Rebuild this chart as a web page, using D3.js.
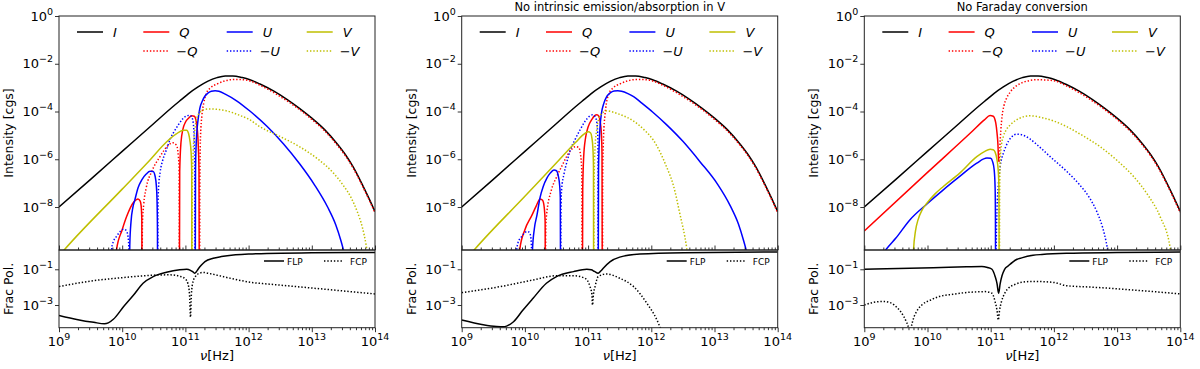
<!DOCTYPE html>
<html>
<head>
<meta charset="utf-8">
<script src="https://cdn.jsdelivr.net/npm/d3@7"></script>
<style>
body { margin: 0; background: #fff; }
text { font-family: "DejaVu Sans", sans-serif; fill: #000; }
</style>
</head>
<body>
<svg id="fig" width="1200" height="369"></svg>
<script>
// all values are [log10(nu), log10(value)] ; null splits a curve into pieces
var titles = ["", "No intrinsic emission/absorption in V", "No Faraday conversion"];
var topTickExp = [0, -2, -4, -6, -8];
var botTickExp = [-1, -3];
var xTickExp = [9, 10, 11, 12, 13, 14];

var stokesI = [[9.00,-8.00],[9.50,-6.84],[10.00,-5.67],[10.50,-4.50],[10.80,-3.80],[10.95,-3.47],[11.05,-3.25],[11.20,-2.97],[11.35,-2.74],[11.50,-2.58],[11.63,-2.51],[11.75,-2.51],[11.90,-2.58],[12.02,-2.67],[12.18,-2.85],[12.40,-3.15],[12.60,-3.48],[12.81,-3.88],[13.00,-4.28],[13.21,-4.78],[13.40,-5.35],[13.53,-5.80],[13.65,-6.30],[13.76,-6.85],[13.88,-7.50],[14.00,-8.19]];

// panel 1
var p1Q = [[9.88,-12],[9.895,-10.3],[9.91,-9.79],[10.0,-8.95],[10.07,-8.40],[10.18,-7.80],[10.25,-7.66],[10.285,-7.75],[10.30,-7.95],[10.31,-8.5],[10.315,-12], null,
  [10.905,-12],[10.91,-6.5],[10.93,-5.3],[10.96,-4.75],[11.0,-4.45],[11.05,-4.28],[11.10,-4.18],[11.14,-4.20],[11.17,-4.4],[11.19,-4.8],[11.205,-5.5],[11.215,-6.5],[11.22,-12]];
var p1mQ = [[10.315,-12],[10.32,-8.7],[10.34,-7.9],[10.38,-7.2],[10.47,-6.5],[10.60,-5.88],[10.72,-5.44],[10.80,-5.31],[10.86,-5.42],[10.89,-5.9],[10.90,-6.5],[10.905,-12], null,
  [11.225,-12],[11.23,-6.5],[11.24,-5.0],[11.26,-4.2],[11.29,-3.65],[11.33,-3.25],[11.40,-3.0],[11.50,-2.85],[11.62,-2.72],[11.76,-2.66],[11.86,-2.66],[12.02,-2.72],[12.18,-2.90],[12.40,-3.21],[12.60,-3.54],[12.81,-3.93],[13.00,-4.33],[13.21,-4.83],[13.40,-5.40],[13.53,-5.85],[13.65,-6.35],[13.76,-6.90],[13.88,-7.55],[14.00,-8.24]];
var p1U = [[10.115,-12],[10.12,-9.6],[10.14,-8.6],[10.17,-8.0],[10.20,-7.70],[10.25,-7.2],[10.31,-6.86],[10.38,-6.62],[10.44,-6.50],[10.49,-6.51],[10.52,-6.7],[10.54,-7.1],[10.55,-7.6],[10.558,-9],[10.56,-12], null,
  [11.155,-12],[11.16,-6.5],[11.17,-5.4],[11.18,-4.9],[11.20,-4.35],[11.23,-3.85],[11.27,-3.55],[11.31,-3.35],[11.36,-3.22],[11.41,-3.15],[11.47,-3.13],[11.53,-3.15],[11.63,-3.27],[11.81,-3.55],[12.02,-3.98],[12.29,-4.62],[12.55,-5.35],[12.81,-6.2],[13.05,-7.1],[13.25,-8.0],[13.38,-8.75],[13.46,-9.4],[13.52,-10.0],[13.6,-11]];
var p1mU = [[9.825,-12],[9.835,-9.7],[9.86,-9.45],[9.91,-9.23],[9.96,-9.05],[10.02,-8.93],[10.06,-8.97],[10.09,-9.2],[10.105,-9.7],[10.11,-12], null,
  [10.562,-12],[10.565,-8.2],[10.575,-7.2],[10.60,-6.55],[10.64,-6.05],[10.70,-5.6],[10.76,-5.15],[10.82,-4.85],[10.89,-4.55],[10.96,-4.30],[11.02,-4.18],[11.07,-4.16],[11.10,-4.23],[11.125,-4.5],[11.14,-5.2],[11.148,-6.5],[11.15,-12]];
var p1V = [[9.0,-10.05],[9.095,-9.76],[10.0,-7.25],[10.44,-6.03],[10.70,-5.28],[10.85,-4.95],[10.97,-4.78],[11.02,-4.78],[11.05,-4.92],[11.07,-5.2],[11.09,-5.7],[11.10,-6.5],[11.103,-12]];
var p1mV = [[11.105,-12],[11.11,-7.0],[11.125,-5.6],[11.15,-4.75],[11.18,-4.30],[11.23,-4.03],[11.30,-3.92],[11.39,-3.89],[11.50,-3.91],[11.63,-3.96],[11.85,-4.15],[12.02,-4.35],[12.18,-4.64],[12.50,-5.05],[12.81,-5.48],[13.10,-6.0],[13.34,-6.57],[13.50,-7.1],[13.62,-7.6],[13.72,-8.2],[13.80,-8.85],[13.86,-9.6],[13.90,-10.3],[13.95,-11]];
var p1FLP = [[9.00,-3.58],[9.30,-3.82],[9.55,-3.97],[9.72,-4.05],[9.78,-4.00],[9.86,-3.80],[10.02,-3.10],[10.18,-2.44],[10.33,-1.78],[10.49,-1.41],[10.70,-1.17],[10.91,-1.03],[11.02,-1.0],[11.08,-1.06],[11.12,-1.15],[11.15,-1.22],[11.17,-1.15],[11.20,-1.00],[11.25,-0.78],[11.31,-0.57],[11.44,-0.38],[11.57,-0.29],[11.76,-0.20],[12.0,-0.15],[12.29,-0.11],[13.0,-0.08],[14.00,-0.06]];
var p1FCP = [[9.00,-1.97],[9.46,-1.68],[10.0,-1.47],[10.5,-1.33],[10.75,-1.31],[10.92,-1.40],[11.0,-1.55],[11.04,-1.80],[11.065,-2.4],[11.08,-3.68],[11.095,-2.4],[11.12,-1.70],[11.16,-1.40],[11.22,-1.22],[11.28,-1.18],[11.40,-1.25],[11.50,-1.33],[11.77,-1.55],[12.10,-1.76],[12.29,-1.82],[13.34,-2.16],[14.00,-2.38]];

// panel 2
var p2Q = [[9.895,-12],[9.905,-10.3],[9.92,-9.76],[10.0,-8.95],[10.11,-8.35],[10.18,-7.95],[10.24,-7.66],[10.28,-7.72],[10.305,-8.0],[10.32,-8.6],[10.325,-12], null,
  [10.91,-12],[10.915,-7.3],[10.93,-5.9],[10.96,-5.1],[11.0,-4.65],[11.06,-4.33],[11.10,-4.18],[11.14,-4.14],[11.17,-4.2],[11.19,-4.4],[11.21,-4.9],[11.22,-5.8],[11.225,-12]];
var p2mQ = [[10.327,-12],[10.33,-9.0],[10.34,-8.4],[10.42,-7.28],[10.50,-6.75],[10.58,-6.31],[10.71,-5.68],[10.80,-5.47],[10.85,-5.5],[10.88,-5.8],[10.90,-6.5],[10.905,-12], null,
  [11.228,-12],[11.232,-6.5],[11.245,-5.0],[11.265,-4.2],[11.29,-3.65],[11.33,-3.25],[11.40,-3.0],[11.50,-2.85],[11.62,-2.72],[11.76,-2.66],[11.86,-2.66],[12.02,-2.72],[12.18,-2.90],[12.40,-3.21],[12.60,-3.54],[12.81,-3.93],[13.00,-4.33],[13.21,-4.83],[13.40,-5.40],[13.53,-5.85],[13.65,-6.35],[13.76,-6.90],[13.88,-7.55],[14.00,-8.24]];
var p2U = [[10.115,-12],[10.12,-9.8],[10.15,-8.9],[10.19,-8.35],[10.24,-7.6],[10.29,-7.14],[10.35,-6.78],[10.40,-6.58],[10.46,-6.45],[10.50,-6.48],[10.53,-6.72],[10.55,-7.1],[10.56,-7.6],[10.565,-12], null,
  [11.16,-12],[11.165,-6.5],[11.175,-5.4],[11.19,-4.6],[11.21,-4.1],[11.25,-3.65],[11.29,-3.40],[11.35,-3.22],[11.41,-3.14],[11.47,-3.13],[11.53,-3.15],[11.63,-3.25],[11.72,-3.38],[11.85,-3.65],[12.02,-4.02],[12.24,-4.55],[12.50,-5.25],[12.77,-6.1],[13.05,-7.05],[13.25,-7.95],[13.38,-8.72],[13.46,-9.4],[13.52,-10.0],[13.6,-11]];
var p2mU = [[9.855,-12],[9.865,-10.0],[9.89,-9.5],[9.95,-9.23],[10.03,-9.03],[10.07,-9.05],[10.095,-9.3],[10.105,-9.8],[10.11,-12], null,
  [10.567,-12],[10.57,-8.3],[10.58,-7.3],[10.62,-6.6],[10.66,-6.16],[10.72,-5.6],[10.79,-5.19],[10.87,-4.78],[10.95,-4.42],[11.02,-4.2],[11.07,-4.14],[11.11,-4.21],[11.14,-4.5],[11.155,-5.2],[11.158,-12]];
var p2V = [[9.10,-10.1],[9.21,-9.76],[10.0,-7.55],[10.5,-6.15],[10.80,-5.3],[10.95,-4.92],[11.0,-4.85],[11.04,-4.9],[11.06,-5.1],[11.075,-5.5],[11.085,-6.3],[11.088,-12]];
var p2mV = [[11.09,-12],[11.095,-7],[11.11,-5.5],[11.14,-4.7],[11.17,-4.3],[11.22,-4.08],[11.30,-3.97],[11.36,-4.0],[11.50,-4.12],[11.72,-4.40],[11.90,-4.80],[12.03,-5.19],[12.24,-6.31],[12.35,-7.1],[12.45,-8.26],[12.56,-9.72],[12.62,-11]];
var p2FLP = [[9.00,-3.84],[9.34,-4.10],[9.55,-4.2],[9.66,-4.22],[9.71,-4.18],[9.82,-3.94],[9.97,-3.28],[10.13,-2.62],[10.34,-1.78],[10.50,-1.41],[10.77,-1.13],[10.98,-1.00],[11.05,-1.03],[11.10,-1.12],[11.16,-1.22],[11.20,-1.10],[11.24,-0.94],[11.35,-0.57],[11.50,-0.32],[11.82,-0.15],[12.51,-0.07],[14.00,-0.03]];
var p2FCP = [[9.00,-2.31],[9.61,-1.97],[10.13,-1.60],[10.50,-1.36],[10.77,-1.36],[10.95,-1.50],[11.03,-1.97],[11.06,-2.4],[11.07,-3.0],[11.085,-2.4],[11.11,-1.97],[11.16,-1.41],[11.29,-1.26],[11.50,-1.50],[11.72,-1.97],[11.93,-2.90],[12.09,-3.84],[12.14,-4.25],[12.2,-4.7]];

// panel 3
var p3Q = [[9.00,-9.0],[10.0,-6.55],[10.7,-4.85],[10.90,-4.35],[10.99,-4.17],[11.04,-4.2],[11.08,-4.48],[11.10,-4.9],[11.115,-5.4],[11.125,-6.1]];
var p3mQ = [[11.135,-6.1],[11.145,-5.5],[11.16,-4.8],[11.18,-4.2],[11.21,-3.75],[11.25,-3.45],[11.31,-3.18],[11.41,-2.92],[11.50,-2.79],[11.62,-2.70],[11.72,-2.67],[11.86,-2.68],[12.02,-2.72],[12.18,-2.90],[12.40,-3.21],[12.60,-3.54],[12.81,-3.93],[13.00,-4.33],[13.21,-4.83],[13.40,-5.40],[13.53,-5.85],[13.65,-6.35],[13.76,-6.90],[13.88,-7.55],[14.00,-8.24]];
var p3U = [[9.30,-9.95],[9.35,-9.76],[9.50,-9.3],[9.72,-8.54],[10.0,-7.85],[10.25,-7.28],[10.51,-6.72],[10.78,-6.16],[10.94,-5.95],[11.0,-5.96],[11.03,-6.1],[11.055,-6.44],[11.07,-7.2],[11.075,-8.5],[11.078,-12]];
var p3mU = [[11.082,-12],[11.088,-9.5],[11.10,-8.1],[11.12,-7.1],[11.15,-6.3],[11.20,-5.75],[11.25,-5.4],[11.32,-5.1],[11.41,-4.95],[11.50,-4.98],[11.62,-5.15],[11.78,-5.5],[11.94,-5.89],[12.20,-6.5],[12.40,-7.05],[12.56,-7.6],[12.68,-8.2],[12.77,-8.85],[12.83,-9.5],[12.88,-10.3],[12.92,-11]];
var p3V = [[9.765,-12],[9.775,-10.3],[9.78,-9.76],[9.81,-9.0],[9.85,-8.54],[9.92,-8.1],[9.99,-7.84],[10.12,-7.45],[10.25,-7.14],[10.51,-6.58],[10.78,-5.89],[10.90,-5.68],[10.99,-5.58],[11.04,-5.6],[11.07,-5.7],[11.10,-6.03],[11.12,-6.5],[11.13,-7.2],[11.135,-12]];
var p3mV = [[11.138,-12],[11.142,-7.5],[11.15,-6.03],[11.17,-5.4],[11.20,-5.05],[11.25,-4.75],[11.31,-4.56],[11.46,-4.28],[11.62,-4.18],[11.80,-4.25],[12.00,-4.40],[12.20,-4.63],[12.45,-5.0],[12.73,-5.47],[13.00,-6.05],[13.26,-6.72],[13.50,-7.55],[13.68,-8.40],[13.84,-9.72],[13.9,-11]];
var p3FLP = [[9.00,-1.00],[10.09,-0.92],[10.62,-0.86],[10.86,-0.84],[10.95,-0.9],[11.02,-1.0],[11.07,-1.4],[11.10,-1.8],[11.125,-2.34],[11.15,-1.8],[11.18,-1.35],[11.22,-1.0],[11.28,-0.8],[11.41,-0.45],[11.49,-0.36],[11.67,-0.22],[11.81,-0.17],[12.20,-0.10],[13.0,-0.06],[14.00,-0.03]];
var p3FCP = [[9.00,-3.00],[9.15,-2.85],[9.30,-2.80],[9.42,-2.88],[9.52,-3.15],[9.60,-3.5],[9.66,-3.9],[9.70,-4.3],[9.72,-4.8],[9.74,-4.3],[9.77,-3.85],[9.83,-3.35],[9.91,-3.00],[10.05,-2.72],[10.17,-2.54],[10.40,-2.40],[10.59,-2.31],[10.80,-2.26],[10.91,-2.25],[11.02,-2.34],[11.07,-2.82],[11.10,-3.3],[11.12,-3.84],[11.14,-3.3],[11.17,-2.82],[11.22,-2.35],[11.28,-2.06],[11.38,-1.85],[11.49,-1.73],[11.65,-1.68],[11.81,-1.69],[12.02,-1.75],[12.20,-1.92],[12.60,-2.0],[13.26,-2.16],[14.00,-2.38]];

var panels = [
  {Q: p1Q, mQ: p1mQ, U: p1U, mU: p1mU, V: p1V, mV: p1mV, FLP: p1FLP, FCP: p1FCP},
  {Q: p2Q, mQ: p2mQ, U: p2U, mU: p2mU, V: p2V, mV: p2mV, FLP: p2FLP, FCP: p2FCP},
  {Q: p3Q, mQ: p3mQ, U: p3U, mU: p3mU, V: p3V, mV: p3mV, FLP: p3FLP, FCP: p3FCP}
];

var svg = d3.select("#fig");
var lefts = [59, 461.7, 864.3];
var W = 316, topTop = 16, topH = 234, botH = 77.7;
var red = "#ff0000", blue = "#0000ff", olive = "#bfbf00";
var dots = "1.4,1.9";

var x = d3.scaleLog().domain([1e9, 1e14]).range([0, W]);
var yTop = d3.scaleLog().domain([Math.pow(10, -9.8), 1]).range([topH, 0]);
var yBot = d3.scaleLog().domain([Math.pow(10, -4.27), Math.pow(10, 0.08)]).range([botH, 0]);

var minorX = [];
for (var e = 9; e < 14; e++) for (var m = 2; m <= 9; m++) minorX.push(m * Math.pow(10, e));
var majorX = xTickExp.map(function(e) { return Math.pow(10, e); });

function powLabel(g, exp, px, py, anchor) {
  var t = g.append("text").attr("x", px).attr("y", py)
    .attr("text-anchor", anchor).style("font-size", "13px");
  t.append("tspan").text("10");
  t.append("tspan").attr("dy", -6).style("font-size", "9.5px")
    .text(exp < 0 ? "\u2212" + (-exp) : String(exp));
}

function drawCurve(g, arr, y, color, dashed) {
  var line = d3.line()
    .defined(function(d) { return d !== null; })
    .x(function(d) { return x(Math.pow(10, d[0])); })
    .y(function(d) { return y(Math.pow(10, d[1])); })
    .curve(d3.curveMonotoneX);
  g.append("path").attr("d", line(arr))
    .attr("fill", "none").attr("stroke", color).attr("stroke-width", 1.5)
    .attr("stroke-dasharray", dashed ? dots : null);
}

function legendLabel(g, px, py, minus, letter) {
  var t = g.append("text").attr("x", px).attr("y", py).style("font-size", "13px");
  if (minus) t.append("tspan").text("\u2212");
  t.append("tspan").style("font-style", "italic").text(letter);
}

panels.forEach(function(p, i) {
  var L = lefts[i];
  var gt = svg.append("g").attr("transform", "translate(" + L + "," + topTop + ")");
  var gb = svg.append("g").attr("transform", "translate(" + L + "," + (topTop + topH) + ")");

  gt.append("clipPath").attr("id", "ct" + i).append("rect").attr("width", W).attr("height", topH);
  gb.append("clipPath").attr("id", "cb" + i).append("rect").attr("width", W).attr("height", botH);

  var ct = gt.append("g").attr("clip-path", "url(#ct" + i + ")");
  drawCurve(ct, stokesI, yTop, "#000", false);
  drawCurve(ct, p.Q, yTop, red, false);
  drawCurve(ct, p.mQ, yTop, red, true);
  drawCurve(ct, p.U, yTop, blue, false);
  drawCurve(ct, p.mU, yTop, blue, true);
  drawCurve(ct, p.V, yTop, olive, false);
  drawCurve(ct, p.mV, yTop, olive, true);

  var cb = gb.append("g").attr("clip-path", "url(#cb" + i + ")");
  drawCurve(cb, p.FLP, yBot, "#000", false);
  drawCurve(cb, p.FCP, yBot, "#000", true);

  // ticks of the top plot's x axis point inward
  gt.append("g").attr("transform", "translate(0," + topH + ")")
    .call(d3.axisBottom(x).tickValues(minorX).tickSize(-2.5).tickFormat(""));
  gt.append("g").attr("transform", "translate(0," + topH + ")")
    .call(d3.axisBottom(x).tickValues(majorX).tickSize(-4.5).tickFormat(""));
  gb.append("g").attr("transform", "translate(0," + botH + ")")
    .call(d3.axisBottom(x).tickValues(minorX).tickSize(2.5).tickFormat(""));
  gb.append("g").attr("transform", "translate(0," + botH + ")")
    .call(d3.axisBottom(x).tickValues(majorX).tickSize(4.5).tickFormat(""));
  gt.append("g").call(d3.axisLeft(yTop)
    .tickValues(topTickExp.map(function(e) { return Math.pow(10, e); })).tickSize(4).tickFormat(""));
  gb.append("g").call(d3.axisLeft(yBot)
    .tickValues(botTickExp.map(function(e) { return Math.pow(10, e); })).tickSize(4).tickFormat(""));
  svg.selectAll(".domain").remove();
  svg.selectAll(".tick line").attr("stroke", "#000").attr("stroke-width", 0.8);

  gt.append("rect").attr("width", W).attr("height", topH)
    .attr("fill", "none").attr("stroke", "#222").attr("stroke-width", 1);
  gb.append("rect").attr("width", W).attr("height", botH)
    .attr("fill", "none").attr("stroke", "#222").attr("stroke-width", 1);

  topTickExp.forEach(function(e) { powLabel(gt, e, -6, yTop(Math.pow(10, e)) + 4.5, "end"); });
  botTickExp.forEach(function(e) { powLabel(gb, e, -6, yBot(Math.pow(10, e)) + 4.5, "end"); });
  xTickExp.forEach(function(e) { powLabel(gb, e, x(Math.pow(10, e)), botH + 18, "middle"); });

  gt.append("text").attr("transform", "translate(-46," + (topH / 2) + ") rotate(-90)")
    .attr("text-anchor", "middle").style("font-size", "12.5px").text("Intensity [cgs]");
  gb.append("text").attr("transform", "translate(-46," + (botH / 2) + ") rotate(-90)")
    .attr("text-anchor", "middle").style("font-size", "12.5px").text("Frac Pol.");
  var xl = gb.append("text").attr("x", W / 2).attr("y", botH + 32.5)
    .attr("text-anchor", "middle").style("font-size", "13px");
  xl.append("tspan").style("font-style", "italic").text("\u03bd");
  xl.append("tspan").text("[Hz]");

  if (titles[i]) {
    svg.append("text").attr("x", L + W / 2).attr("y", 11).attr("text-anchor", "middle")
      .style("font-size", "11.5px").text(titles[i]);
  }

  // legend of the top plot
  var hx = [18, 84.3, 167.7, 247.7], hw = 26, r1 = 16, r2 = 35;
  var legCols = [["#000", "I"], [red, "Q"], [blue, "U"], [olive, "V"]];
  legCols.forEach(function(c, k) {
    gt.append("line").attr("x1", hx[k]).attr("x2", hx[k] + hw).attr("y1", r1).attr("y2", r1)
      .attr("stroke", c[0]).attr("stroke-width", 1.5);
    legendLabel(gt, hx[k] + hw + 10, r1 + 5, false, c[1]);
    if (k > 0) {
      gt.append("line").attr("x1", hx[k]).attr("x2", hx[k] + hw).attr("y1", r2).attr("y2", r2)
        .attr("stroke", c[0]).attr("stroke-width", 1.5).attr("stroke-dasharray", dots);
      legendLabel(gt, hx[k] + hw + 7, r2 + 5, true, c[1]);
    }
  });

  // legend of the bottom plot
  var ly = 11;
  gb.append("line").attr("x1", 205).attr("x2", 225).attr("y1", ly).attr("y2", ly)
    .attr("stroke", "#000").attr("stroke-width", 1.5);
  gb.append("text").attr("x", 228).attr("y", ly + 3.5).style("font-size", "9px").text("FLP");
  gb.append("line").attr("x1", 265).attr("x2", 284).attr("y1", ly).attr("y2", ly)
    .attr("stroke", "#000").attr("stroke-width", 1.5).attr("stroke-dasharray", dots);
  gb.append("text").attr("x", 291).attr("y", ly + 3.5).style("font-size", "9px").text("FCP");
});
</script>
</body>
</html>
